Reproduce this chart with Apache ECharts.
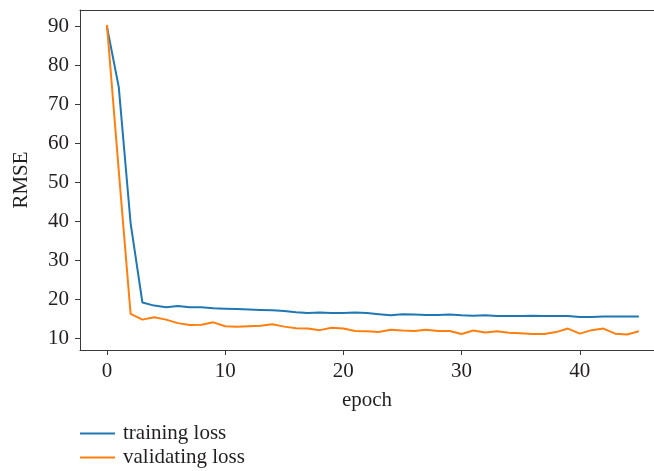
<!DOCTYPE html>
<html>
<head>
<meta charset="utf-8">
<script src="https://cdn.jsdelivr.net/npm/echarts@6/dist/echarts.min.js"></script>
<style>
  html, body { margin: 0; padding: 0; background: #fff; }
  #chart { width: 654px; height: 471px; }
</style>
</head>
<body>
<div id="chart"></div>
<script>
// Loss per epoch (RMSE)
const epochs = Array.from({ length: 46 }, (_, i) => i);
const trainingLoss = [
  90.0, 74.5, 39.6, 19.2, 18.4, 18.0, 18.3, 18.0, 18.0, 17.7,
  17.6, 17.5, 17.4, 17.3, 17.2, 17.0, 16.7, 16.5, 16.6, 16.5,
  16.5, 16.6, 16.5, 16.2, 15.9, 16.2, 16.1, 16.0, 16.0, 16.1,
  15.9, 15.8, 15.9, 15.7, 15.7, 15.7, 15.8, 15.7, 15.7, 15.7,
  15.5, 15.5, 15.6, 15.6, 15.6, 15.6
];
const validatingLoss = [
  90.5, 53.0, 16.3, 14.8, 15.4, 14.8, 13.9, 13.4, 13.5, 14.1,
  13.1, 13.0, 13.1, 13.2, 13.6, 13.0, 12.6, 12.5, 12.1, 12.7,
  12.5, 11.9, 11.8, 11.6, 12.2, 12.0, 11.9, 12.2, 11.9, 11.9,
  11.1, 12.0, 11.5, 11.8, 11.4, 11.3, 11.1, 11.1, 11.6, 12.5,
  11.2, 12.1, 12.5, 11.2, 11.0, 11.8
];
const xTicks = [0, 10, 20, 30, 40];
const yTicks = [10, 20, 30, 40, 50, 60, 70, 80, 90];

const FONT = '"Liberation Serif", "DejaVu Serif", serif';
const INK = '#231f20';
const AXIS = '#3a3a3a';

// Visible epoch window: the plot runs off the right edge of the canvas.
const X_MIN = -2.28;
const X_MAX = 46.28;

const chart = echarts.init(document.getElementById('chart'), null, { renderer: 'canvas' });

const pairs = (ys) => epochs.map((x, i) => [x, ys[i]]);

chart.setOption({
  animation: false,
  backgroundColor: '#fff',
  grid: { left: 80, top: 10, right: 0, height: 340, show: false },
  xAxis: [
    {
      type: 'value', min: X_MIN, max: X_MAX, position: 'bottom',
      name: 'epoch', nameLocation: 'middle', nameGap: 40,
      nameTextStyle: { fontFamily: FONT, fontSize: 21, color: INK },
      axisLine: { show: true, onZero: false, lineStyle: { color: AXIS, width: 1 } },
      axisTick: { show: true, length: 5, lineStyle: { color: AXIS }, customValues: xTicks },
      axisLabel: { fontFamily: FONT, fontSize: 21, color: INK, margin: 11, customValues: xTicks },
      splitLine: { show: false }
    },
    {
      // top frame line
      type: 'value', min: X_MIN, max: X_MAX, position: 'top',
      axisLine: { show: true, onZero: false, lineStyle: { color: AXIS, width: 1 } },
      axisTick: { show: false }, axisLabel: { show: false }, splitLine: { show: false }
    }
  ],
  yAxis: {
    type: 'value', min: 7.0, max: 94.3,
    name: 'RMSE', nameLocation: 'middle', nameGap: 48, nameRotate: 90,
    nameTextStyle: { fontFamily: FONT, fontSize: 21, color: INK },
    axisLine: { show: true, onZero: false, lineStyle: { color: AXIS, width: 1 } },
    axisTick: { show: true, length: 5, lineStyle: { color: AXIS }, customValues: yTicks },
    axisLabel: { fontFamily: FONT, fontSize: 21, color: INK, margin: 11, customValues: yTicks },
    splitLine: { show: false }
  },
  legend: {
    orient: 'vertical', left: 80, top: 423, padding: 0,
    height: 48,
    itemWidth: 35, itemHeight: 2, itemGap: 3,
    icon: 'rect',
    textStyle: { fontFamily: FONT, fontSize: 21, color: INK, lineHeight: 21, padding: [0, 0, 0, 3] },
    data: ['training loss', 'validating loss']
  },
  series: [
    {
      name: 'training loss', type: 'line', data: pairs(trainingLoss),
      xAxisIndex: 0, showSymbol: false, symbol: 'none',
      lineStyle: { color: '#1f77b4', width: 2 }, itemStyle: { color: '#1f77b4' }
    },
    {
      name: 'validating loss', type: 'line', data: pairs(validatingLoss),
      xAxisIndex: 0, showSymbol: false, symbol: 'none',
      lineStyle: { color: '#ff7f0e', width: 2 }, itemStyle: { color: '#ff7f0e' }
    }
  ]
});
</script>
</body>
</html>
